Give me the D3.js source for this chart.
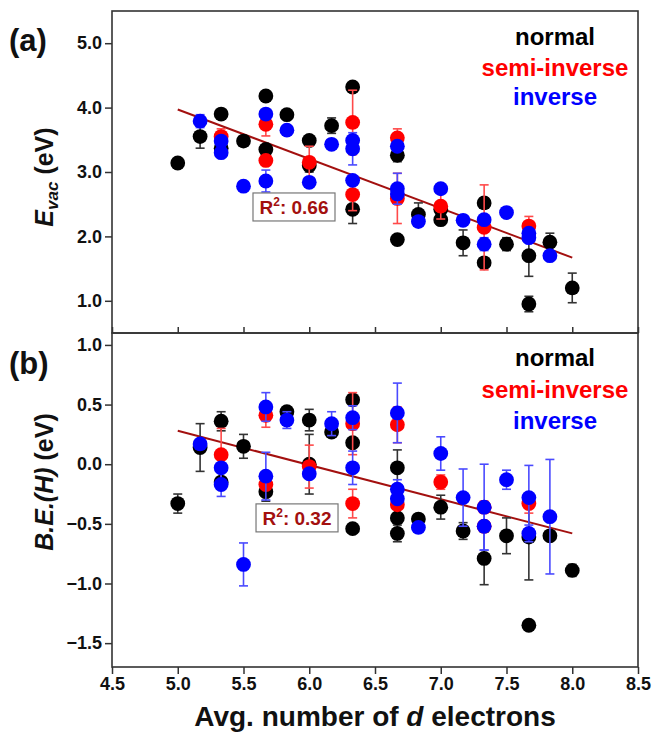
<!DOCTYPE html>
<html>
<head>
<meta charset="utf-8">
<script src="https://cdn.jsdelivr.net/npm/d3@7"></script>
<style>
  html, body { margin: 0; padding: 0; background: #fff; }
  svg { display: block; }
  text { font-family: "Liberation Sans", Arial, sans-serif; font-weight: bold; }
</style>
</head>
<body>
<svg id="chart" width="654" height="732"></svg>
<script>
// ---- data: [avg d electrons, value, error] ----
const evacNormal = [
  [5.00, 3.14, 0], [5.17, 3.55, 0.18], [5.33, 3.90, 0], [5.33, 3.37, 0],
  [5.50, 3.48, 0], [5.67, 4.18, 0], [5.67, 3.35, 0], [5.83, 3.89, 0],
  [6.00, 3.49, 0], [6.00, 3.10, 0.10], [6.17, 3.72, 0.12], [6.33, 4.32, 0],
  [6.33, 2.42, 0.22], [6.67, 3.26, 0.10], [6.67, 1.95, 0], [6.83, 2.34, 0.18],
  [7.00, 2.42, 0], [7.00, 2.26, 0.08], [7.17, 1.90, 0.20], [7.33, 2.52, 0.08],
  [7.33, 1.59, 0], [7.50, 1.88, 0.10], [7.67, 1.70, 0.32], [7.67, 0.95, 0.12],
  [7.83, 1.91, 0.14], [8.00, 1.20, 0.23]
];
const evacSemi = [
  [5.33, 3.55, 0.12], [5.67, 3.74, 0.18], [5.67, 3.18, 0], [6.00, 3.15, 0.25],
  [6.33, 3.77, 0.50], [6.33, 2.65, 0.25], [6.67, 3.53, 0.14], [6.67, 2.59, 0.39],
  [7.00, 2.47, 0.20], [7.33, 2.14, 0.66], [7.67, 2.16, 0.15]
];
const evacInverse = [
  [5.17, 3.79, 0.10], [5.33, 3.48, 0], [5.33, 3.30, 0], [5.50, 2.78, 0],
  [5.67, 3.90, 0], [5.67, 2.86, 0.17], [5.83, 3.65, 0], [6.00, 2.84, 0],
  [6.17, 3.43, 0], [6.33, 3.49, 0], [6.33, 3.36, 0.25], [6.33, 2.87, 0],
  [6.67, 3.40, 0], [6.67, 2.74, 0.24], [6.67, 2.66, 0], [6.83, 2.23, 0],
  [7.00, 2.74, 0], [7.17, 2.25, 0], [7.33, 2.26, 0], [7.33, 1.88, 0.10],
  [7.50, 2.37, 0.05], [7.67, 2.05, 0], [7.67, 1.98, 0], [7.83, 1.70, 0]
];

const beNormal = [
  [5.00, -0.33, 0.08], [5.17, 0.14, 0.20], [5.33, 0.36, 0.08], [5.33, -0.15, 0],
  [5.50, 0.15, 0.10], [5.67, -0.23, 0.08], [5.83, 0.44, 0.04], [6.00, 0.37, 0.09],
  [6.00, 0.00, 0.25], [6.17, 0.27, 0], [6.33, 0.54, 0], [6.33, 0.18, 0],
  [6.33, -0.54, 0], [6.67, -0.03, 0.15], [6.67, -0.45, 0], [6.67, -0.58, 0.07],
  [6.83, -0.46, 0.03], [7.00, -0.36, 0.10], [7.17, -0.56, 0.07], [7.33, -0.79, 0.22],
  [7.50, -0.60, 0.15], [7.67, -0.61, 0.36], [7.67, -1.35, 0], [7.83, -0.60, 0],
  [8.00, -0.89, 0.05]
];
const beSemi = [
  [5.33, 0.08, 0.22], [5.67, 0.41, 0.10], [5.67, -0.17, 0], [6.00, -0.02, 0.18],
  [6.33, 0.34, 0.26], [6.33, -0.33, 0.12], [6.67, 0.33, 0.15], [6.67, -0.34, 0],
  [7.00, -0.15, 0.06], [7.33, -0.36, 0.05], [7.33, -0.52, 0], [7.67, -0.33, 0.08]
];
const beInverse = [
  [5.17, 0.17, 0], [5.33, -0.03, 0], [5.33, -0.17, 0.10], [5.50, -0.84, 0.18],
  [5.67, 0.48, 0.12], [5.67, -0.10, 0.20], [5.83, 0.37, 0.07], [6.00, -0.08, 0],
  [6.17, 0.34, 0.10], [6.33, 0.39, 0.10], [6.33, -0.03, 0.14], [6.67, 0.43, 0.25],
  [6.67, -0.21, 0.08], [6.67, -0.29, 0], [6.83, -0.53, 0], [7.00, 0.09, 0.14],
  [7.17, -0.28, 0.24], [7.33, -0.36, 0.36], [7.33, -0.52, 0.20], [7.50, -0.13, 0.08],
  [7.67, -0.28, 0.27], [7.67, -0.58, 0.07], [7.83, -0.44, 0.48]
];

// linear fits (end points) and their R²
const fitEvac = [[5.0, 3.97], [8.0, 1.67]];
const fitBE = [[5.0, 0.28], [8.0, -0.58]];
const r2Evac = "0.66";
const r2BE = "0.32";

const xTicks = [4.5, 5.0, 5.5, 6.0, 6.5, 7.0, 7.5, 8.0, 8.5];
const evacTicks = [1.0, 2.0, 3.0, 4.0, 5.0];
const beTicks = [-1.5, -1.0, -0.5, 0.0, 0.5, 1.0];
const legendLabels = ["normal", "semi-inverse", "inverse"];

// ---- layout ----
const svg = d3.select("#chart");
const plotLeft = 112, plotRight = 638, plotTop = 11, plotMid = 333, plotBottom = 667;
const colors = ["#000000", "#ff0000", "#0000ff"];
const barColors = ["#333333", "#ff4a4a", "#4a4aff"];
const fitColor = "#a3100f";

const x = d3.scaleLinear().domain([4.5, 8.5]).range([plotLeft, plotRight]);
const yA = d3.scaleLinear().domain([0.5, 5.5]).range([plotMid, plotTop]);
const yB = d3.scaleLinear().domain([-1.7, 1.1]).range([plotBottom, plotMid]);
const fmt = d3.format(".1f");

function styleAxis(g, size) {
  g.select(".domain").remove();
  g.selectAll(".tick line").attr("stroke", "#333").attr("stroke-width", 1.5);
  g.selectAll(".tick text").attr("fill", "#111").style("font-size", size + "px");
}

function panel(y, ticks, series, fit, r2, r2pos, legendY) {
  // left axis
  const ga = svg.append("g").attr("transform", `translate(${plotLeft},0)`)
    .call(d3.axisLeft(y).tickValues(ticks).tickFormat(fmt).tickSize(7).tickPadding(3));
  styleAxis(ga, 18);

  const layer = svg.append("g");

  // fit line
  layer.append("path")
    .attr("d", d3.line().x(d => x(d[0])).y(d => y(d[1]))(fit))
    .attr("stroke", fitColor).attr("stroke-width", 2).attr("fill", "none");

  // series: error bars then markers
  series.forEach((data, i) => {
    const g = layer.append("g");
    const withErr = data.filter(d => d[2] > 0);
    g.selectAll("line.bar").data(withErr).join("line")
      .attr("class", "bar")
      .attr("x1", d => x(d[0])).attr("x2", d => x(d[0]))
      .attr("y1", d => y(d[1] - d[2])).attr("y2", d => y(d[1] + d[2]))
      .attr("stroke", barColors[i]).attr("stroke-width", 1.6);
    ["lo", "hi"].forEach((k, s) => {
      const sign = s ? 1 : -1;
      g.selectAll("line.cap-" + k).data(withErr).join("line")
        .attr("class", "cap-" + k)
        .attr("x1", d => x(d[0]) - 4.5).attr("x2", d => x(d[0]) + 4.5)
        .attr("y1", d => y(d[1] + sign * d[2])).attr("y2", d => y(d[1] + sign * d[2]))
        .attr("stroke", barColors[i]).attr("stroke-width", 1.6);
    });
    g.selectAll("circle").data(data).join("circle")
      .attr("cx", d => x(d[0])).attr("cy", d => y(d[1])).attr("r", 7.4)
      .attr("fill", colors[i]);
  });

  // R² annotation
  const cx = x(r2pos[0]), cy = y(r2pos[1]);
  const w = 82, h = 28;
  svg.append("rect").attr("x", cx - w / 2).attr("y", cy - h / 2)
    .attr("width", w).attr("height", h)
    .attr("fill", "#fff").attr("stroke", "#777").attr("stroke-width", 1.2);
  const t = svg.append("text").attr("x", cx).attr("y", cy + 7)
    .attr("text-anchor", "middle").attr("fill", fitColor).style("font-size", "19px");
  t.append("tspan").text("R");
  t.append("tspan").attr("dy", -8).style("font-size", "12px").text("2");
  t.append("tspan").attr("dy", 8).text(": " + r2);

  // legend
  legendLabels.forEach((lab, i) => {
    svg.append("text").attr("x", 555).attr("y", legendY[i])
      .attr("text-anchor", "middle").attr("fill", colors[i])
      .style("font-size", "24px").text(lab);
  });
}

panel(yA, evacTicks, [evacNormal, evacSemi, evacInverse], fitEvac, r2Evac,
      [5.884, 2.457], [45, 76, 105]);
panel(yB, beTicks, [beNormal, beSemi, beInverse], fitBE, r2BE,
      [5.907, -0.45], [366, 398, 429]);

// inner ticks along the shared boundary
const gi = svg.append("g").attr("transform", `translate(0,${plotMid})`)
  .call(d3.axisBottom(x).tickValues(xTicks).tickSizeInner(-6).tickSizeOuter(0).tickFormat(""));
styleAxis(gi, 1);

// bottom x axis
const gx = svg.append("g").attr("transform", `translate(0,${plotBottom})`)
  .call(d3.axisBottom(x).tickValues(xTicks).tickFormat(fmt).tickSize(7).tickPadding(3));
styleAxis(gx, 18);

// frames
[[plotTop, plotMid], [plotMid, plotBottom]].forEach(([a, b]) => {
  svg.append("rect").attr("x", plotLeft).attr("y", a)
    .attr("width", plotRight - plotLeft).attr("height", b - a)
    .attr("fill", "none").attr("stroke", "#333").attr("stroke-width", 1.6);
});

// panel labels
svg.append("text").attr("x", 9).attr("y", 51).style("font-size", "31px").attr("fill", "#111").text("(a)");
svg.append("text").attr("x", 9).attr("y", 374).style("font-size", "31px").attr("fill", "#111").text("(b)");

// y-axis titles
const ta = svg.append("text").attr("transform", "translate(53,177) rotate(-90)")
  .attr("text-anchor", "middle").attr("fill", "#111").style("font-size", "25px");
ta.append("tspan").style("font-style", "italic").text("E");
ta.append("tspan").attr("dy", 5).style("font-size", "17px").style("font-style", "italic").text("vac");
ta.append("tspan").attr("dy", -5).text(" (eV)");

const tb = svg.append("text").attr("transform", "translate(53,482) rotate(-90)")
  .attr("text-anchor", "middle").attr("fill", "#111").style("font-size", "25px");
tb.append("tspan").style("font-style", "italic").text("B.E.(H)");
tb.append("tspan").text(" (eV)");

// x-axis title
const tx = svg.append("text").attr("x", (plotLeft + plotRight) / 2).attr("y", 726)
  .attr("text-anchor", "middle").attr("fill", "#111").style("font-size", "28px");
tx.append("tspan").text("Avg. number of ");
tx.append("tspan").style("font-style", "italic").text("d");
tx.append("tspan").text(" electrons");
</script>
</body>
</html>
